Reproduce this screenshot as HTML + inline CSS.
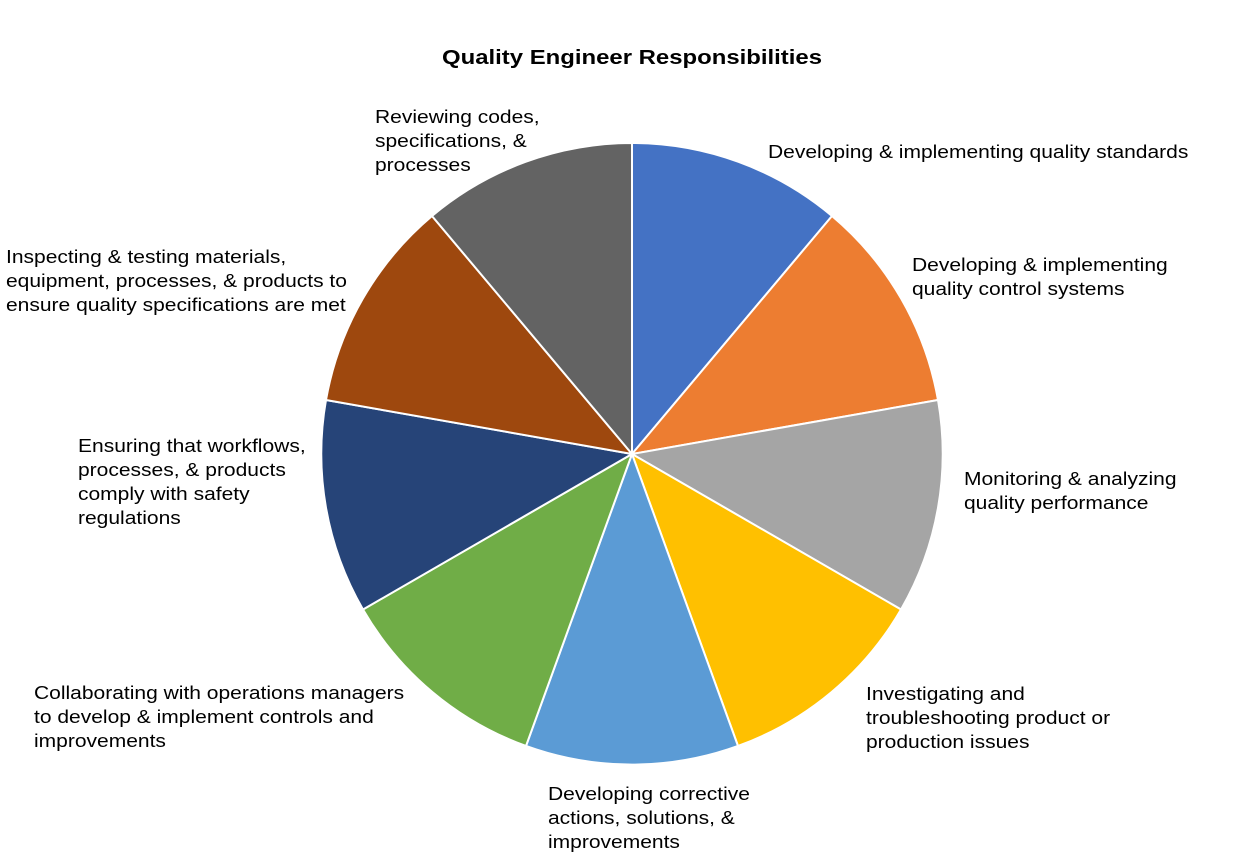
<!DOCTYPE html>
<html><head><meta charset="utf-8"><style>
body{margin:0;width:1260px;height:864px;background:#fff;position:relative;font-family:"Liberation Sans",Arial,sans-serif;overflow:hidden}
.t{position:absolute;font-size:18px;line-height:24px;color:#000;white-space:nowrap;transform-origin:0 0;transform:scaleX(1.167)}
</style></head><body>
<svg width="1260" height="864" style="position:absolute;left:0;top:0">
<g stroke="#fff" stroke-width="2" stroke-linejoin="round">
<path d="M632,454 L632,143 A311,311 0 0 1 832,216 Z" fill="#4472C4"/>
<path d="M632,454 L832,216 A311,311 0 0 1 938,400 Z" fill="#ED7D31"/>
<path d="M632,454 L938,400 A311,311 0 0 1 901,609.5 Z" fill="#A5A5A5"/>
<path d="M632,454 L901,609.5 A311,311 0 0 1 738,746 Z" fill="#FFC000"/>
<path d="M632,454 L738,746 A311,311 0 0 1 526,746 Z" fill="#5B9BD5"/>
<path d="M632,454 L526,746 A311,311 0 0 1 363,609.5 Z" fill="#70AD47"/>
<path d="M632,454 L363,609.5 A311,311 0 0 1 326,400 Z" fill="#264478"/>
<path d="M632,454 L326,400 A311,311 0 0 1 432,216 Z" fill="#9E480E"/>
<path d="M632,454 L432,216 A311,311 0 0 1 632,143 Z" fill="#636363"/>
</g>
<text x="632" y="64" text-anchor="middle" font-family="Liberation Sans,Arial,sans-serif" font-weight="bold" font-size="20" textLength="380" lengthAdjust="spacingAndGlyphs">Quality Engineer Responsibilities</text>
</svg>
<div class="t" style="left:375px;top:105px">Reviewing codes,<br>specifications, &amp;<br>processes</div>
<div class="t" style="left:768px;top:140px">Developing &amp; implementing quality standards</div>
<div class="t" style="left:912px;top:253px">Developing &amp; implementing<br>quality control systems</div>
<div class="t" style="left:964px;top:467px">Monitoring &amp; analyzing<br>quality performance</div>
<div class="t" style="left:866px;top:682px">Investigating and<br>troubleshooting product or<br>production issues</div>
<div class="t" style="left:548px;top:782px">Developing corrective<br>actions, solutions, &amp;<br>improvements</div>
<div class="t" style="left:34px;top:681px">Collaborating with operations managers<br>to develop &amp; implement controls and<br>improvements</div>
<div class="t" style="left:78px;top:434px">Ensuring that workflows,<br>processes, &amp; products<br>comply with safety<br>regulations</div>
<div class="t" style="left:6px;top:245px">Inspecting &amp; testing materials,<br>equipment, processes, &amp; products to<br>ensure quality specifications are met</div>
</body></html>
